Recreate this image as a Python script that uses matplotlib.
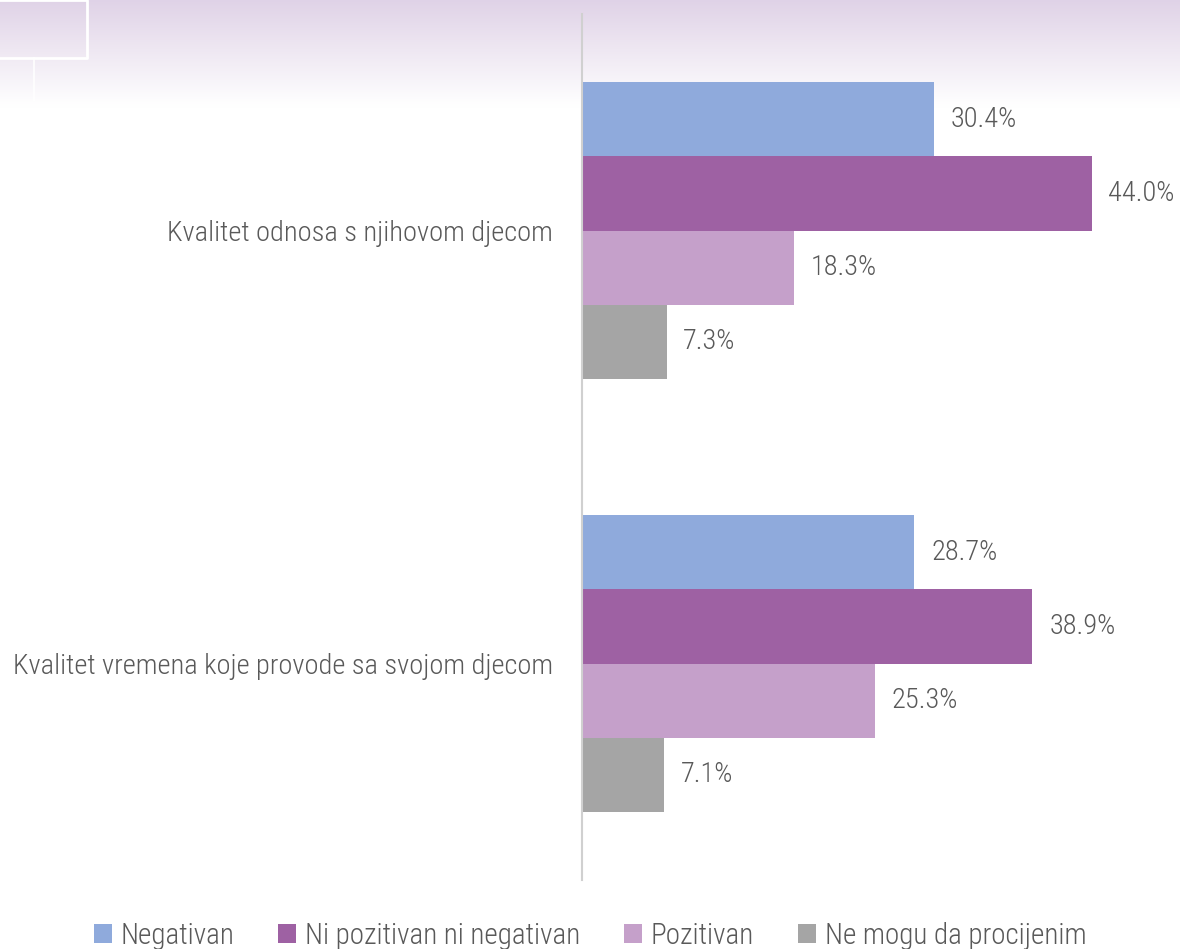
import matplotlib.pyplot as plt
import numpy as np

categories = ["Kvalitet odnosa s njihovom djecom", "Kvalitet vremena koje provode sa svojom djecom"]
series_names = ["Negativan", "Ni pozitivan ni negativan", "Pozitivan", "Ne mogu da procijenim"]
negativan = [30.4, 28.7]
neutralno = [44.0, 38.9]
pozitivan = [18.3, 25.3]
ne_mogu = [7.3, 7.1]

colors = ["#8faadc", "#9e61a3", "#c5a0ca", "#a5a5a5"]
text_color = "#595959"

plt.rcParams["font.family"] = ["Roboto Condensed", "Barlow Condensed", "DejaVu Sans"]
plt.rcParams["font.weight"] = 300

W, H = 1180, 949
fig = plt.figure(figsize=(W / 100, H / 100), dpi=100)

# lavender header band fading to white, with thin white outline ornament
bg = fig.add_axes([0, 0, 1, 1], zorder=-10)
rows = np.linspace(0, H, 400)
fade = np.clip(rows / 105, 0, 1).reshape(-1, 1)
top = np.array([0.878, 0.827, 0.906])
img = top * (1 - fade[..., None]) + fade[..., None]
bg.imshow(img, aspect="auto", extent=[0, W, H, 0])
bg.plot([0, 87, 87, 0], [0, 0, 58, 58], color="white", lw=2)
bg.plot([34, 34], [58, 100], color="white", lw=1.5, alpha=0.8)
bg.set_xlim(0, W)
bg.set_ylim(H, 0)
bg.axis("off")

ax = fig.add_axes([582 / W, 69 / H, 579 / W, 866 / H])
ax.patch.set_alpha(0)

values = [negativan, neutralno, pozitivan, ne_mogu]
y = np.arange(len(categories))
h = 0.171
offsets = (np.arange(4) - 1.5) * h
for vals, off, col, name in zip(values, offsets, colors, series_names):
    bars = ax.barh(y + off, vals, height=h, color=col, label=name)
    for b, v in zip(bars, vals):
        ax.text(v + 1.45, b.get_y() + h / 2, f"{v:.1f}%", va="center", ha="left",
                fontsize=20.5, color=text_color)

ax.set_xlim(0, 50)
ax.set_ylim(1.5, -0.5)
ax.set_yticks(y)
ax.set_yticklabels(categories, fontsize=20.5, color=text_color)
ax.tick_params(axis="y", length=0, pad=21)
ax.set_xticks([])
for s in ["top", "right", "bottom"]:
    ax.spines[s].set_visible(False)
ax.spines["left"].set_color("#d0d0d0")
ax.spines["left"].set_linewidth(1.5)

leg = fig.legend(loc="center", bbox_to_anchor=(0.5, 1 - 936 / H), ncol=4, frameon=False,
                 fontsize=21, handlelength=0.62, handleheight=0.62, handletextpad=0.3,
                 columnspacing=1.5)
for t in leg.get_texts():
    t.set_color(text_color)

fig.savefig("out.png", dpi=100)
